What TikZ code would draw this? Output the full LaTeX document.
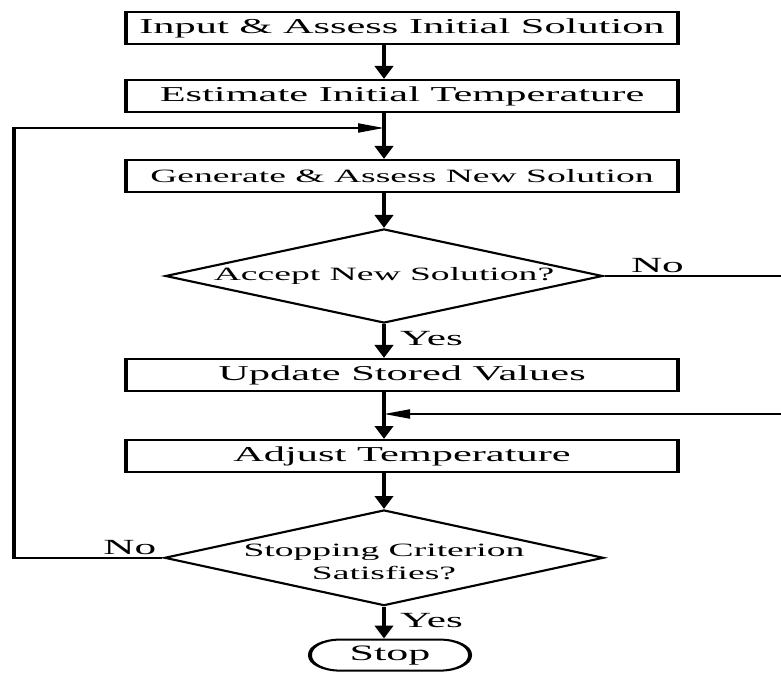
\documentclass[tikz,border=0pt]{standalone}
\usepackage{fontspec}
\setmainfont{Liberation Serif}
\usepackage{tikz}
\usetikzlibrary{arrows.meta, shapes.geometric, positioning}
\tikzset{
  process/.style={
    rectangle, draw=black, line width=1pt,
    minimum width=138pt, minimum height=16pt, inner sep=0pt,
    align=center, font=\fontsize{10.6}{12}\selectfont
  },
  decision/.style={
    diamond, draw=black, line width=1pt, aspect=2.3,
    minimum width=109.5pt, minimum height=47pt, inner sep=-2pt,
    align=center, font=\fontsize{9.4}{11.5}\selectfont
  },
  terminal/.style={
    rectangle, rounded corners=7.5pt, draw=black, line width=1pt,
    minimum width=40pt, minimum height=15.5pt, inner sep=0pt,
    font=\fontsize{11}{12}\selectfont
  },
  arrow/.style={-{Triangle[length=6.5pt,width=4.5pt]}, line width=1pt},
  branch/.style={font=\fontsize{10.8}{12}\selectfont, inner sep=1pt}
}

\begin{document}
\begin{tikzpicture}
  \useasboundingbox (0,0) rectangle (390.5pt,-336.5pt);
  % drawn at half width, then stretched like the original
  \begin{scope}[transform canvas={xscale=2}]
  \node[process] (input) at (100.5pt,-14pt) {Input \& Assess Initial Solution};
  \node[process, below=17pt of input] (estimate) {Estimate Initial Temperature};
  \node[process, below=23pt of estimate,
        font=\fontsize{9.4}{11.5}\selectfont] (generate) {Generate \& Assess New Solution};
  \node[decision, below=17.5pt of generate, xshift=-4.5pt] (accept) {Accept New Solution?};
  \node[process, below=17pt of accept, xshift=4.5pt] (update) {Update Stored Values};
  \node[process, below=23.5pt of update] (adjust) {Adjust Temperature};
  \node[decision, below=18pt of adjust, xshift=-4.5pt] (stopcrit)
    {\raisebox{-3pt}[\height][\depth]{\begin{tabular}{@{}c@{}}Stopping Criterion\\Satisfies?\end{tabular}}};
  \node[terminal, below=16pt of stopcrit, xshift=1.5pt] (stop) {Stop};

  \path (estimate.south -| accept.north) ++(0,-7.5pt) coordinate (join1);
  \path (update.south -| accept.north) ++(0,-11pt) coordinate (join2);
  \coordinate (leftx) at (3.5pt,0);
  \coordinate (rightx) at (197pt,0);

  \draw[arrow] (input.south -| accept.north) -- (estimate.north -| accept.north);
  \draw[arrow] (estimate.south -| accept.north) -- (generate.north -| accept.north);
  \draw[arrow] (generate.south -| accept.north) -- (accept.north);
  \draw[arrow] (accept.south) -- node[branch, pos=0, anchor=north west, xshift=2.5pt, yshift=-2pt]{Yes} (update.north -| accept.south);
  \draw[arrow] (update.south -| accept.north) -- (adjust.north -| accept.north);
  \draw[arrow] (adjust.south -| accept.north) -- (stopcrit.north);
  \draw[arrow] (stopcrit.south) -- node[branch, pos=0, anchor=north west, xshift=2.5pt, yshift=-2pt]{Yes} (stop.north -| stopcrit.south);

  % loops back
  \draw[arrow] (stopcrit.west) -- node[branch, pos=0, anchor=south east]{No} (stopcrit.west -| leftx) |- (join1);
  \draw[arrow] (accept.east) -- node[branch, pos=0, anchor=south west, xshift=5pt]{No} (accept.east -| rightx) |- (join2);
  \end{scope}
\end{tikzpicture}
\end{document}
